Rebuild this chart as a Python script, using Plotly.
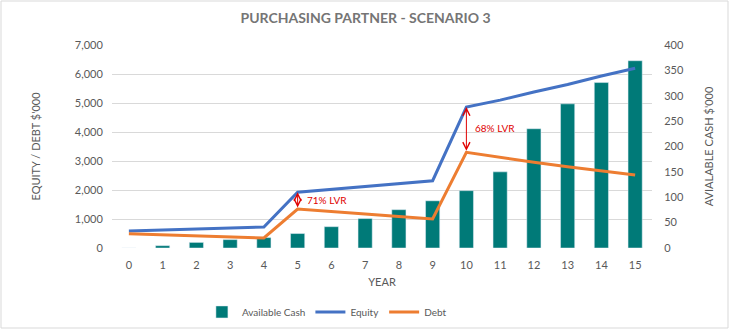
import plotly.graph_objects as go

years = list(range(16))
available_cash = [0, 4.6, 11, 16.5, 20.5, 28.5, 42, 58, 75.5, 93, 113, 150, 235, 284, 326, 369]
equity = [590, 620, 650, 690, 724, 1920, 2020, 2120, 2220, 2320, 4860, 5100, 5380, 5640, 5930, 6200]
debt = [494, 460, 420, 380, 345, 1345, 1250, 1170, 1090, 1000, 3300, 3120, 2955, 2800, 2655, 2520]
lvr_years = [5, 10]
lvr_labels = ["71% LVR", "68% LVR"]
lvr_text_y = [1655, 4150]

GRAY = "#595959"
FONT = "Lato"

fig = go.Figure()
fig.add_trace(go.Bar(x=years, y=available_cash, name="Available Cash",
                     marker_color="#007A78", yaxis="y"))
fig.add_trace(go.Scatter(x=years, y=equity, name="Equity", mode="lines",
                         line=dict(color="#4472C4", width=3), yaxis="y2"))
fig.add_trace(go.Scatter(x=years, y=debt, name="Debt", mode="lines",
                         line=dict(color="#ED7D31", width=3), yaxis="y2"))

for yr, lab, ty in zip(lvr_years, lvr_labels, lvr_text_y):
    fig.add_annotation(x=yr, y=equity[yr], ax=yr, ay=debt[yr], xref="x", yref="y2",
                       axref="x", ayref="y2", text="", showarrow=True,
                       arrowhead=5, arrowside="end+start", arrowsize=1.4,
                       arrowwidth=1, arrowcolor="#E00000", standoff=0, startstandoff=0)
    fig.add_annotation(x=yr, y=ty, xref="x", yref="y2", text=lab, showarrow=False,
                       xanchor="left", xshift=7, font=dict(color="#E00000", size=10, family=FONT))

fig.update_layout(
    width=731, height=336,
    margin=dict(l=112, r=79, t=45, b=88, autoexpand=False),
    paper_bgcolor="white", plot_bgcolor="white",
    font=dict(family=FONT, color=GRAY, size=11),
    title=dict(text="<b>PURCHASING PARTNER - SCENARIO 3</b>", x=0.5, xanchor="center",
               y=0.945, yanchor="middle", font=dict(size=14, color="#757575", family=FONT)),
    bargap=0.58,
    showlegend=True,
    legend=dict(orientation="h", x=0.398, xanchor="center", y=-0.315, yanchor="middle",
                itemwidth=30,
                font=dict(size=10, color=GRAY, family=FONT), traceorder="normal"),
    xaxis=dict(range=[-0.5, 15.5], tickmode="array", tickvals=years, automargin=False,
               ticktext=[str(y) for y in years], showgrid=False, zeroline=False,
               showline=False, ticks="outside", ticklen=7, tickcolor="rgba(0,0,0,0)",
               title=dict(text="YEAR", font=dict(size=11, color=GRAY), standoff=8)),
    yaxis=dict(side="right", range=[0, 400], dtick=50, showgrid=False, zeroline=False,
               ticks="outside", ticklen=9, tickcolor="rgba(0,0,0,0)", automargin=False,
               tickfont=dict(size=11, color=GRAY),
               title=dict(text="AVIALABLE CASH $'000", font=dict(size=11, color=GRAY), standoff=22)),
    yaxis2=dict(side="left", overlaying="y", range=[0, 7000], dtick=1000, tickformat=",",
                showgrid=True, gridcolor="#D9D9D9", gridwidth=1, zeroline=False,
                ticks="outside", ticklen=6, tickcolor="rgba(0,0,0,0)", automargin=False,
                tickfont=dict(size=11, color=GRAY),
                title=dict(text="EQUITY / DEBT $'000", font=dict(size=11, color=GRAY), standoff=31)),
)
fig.add_shape(type="rect", xref="paper", yref="paper",
              x0=-111/540, x1=1 + 76/540, y0=-80/203, y1=1 + 44/203,
              line=dict(color="#D9D9D9", width=1), fillcolor="rgba(0,0,0,0)", layer="below")

fig.write_html("out.html")
